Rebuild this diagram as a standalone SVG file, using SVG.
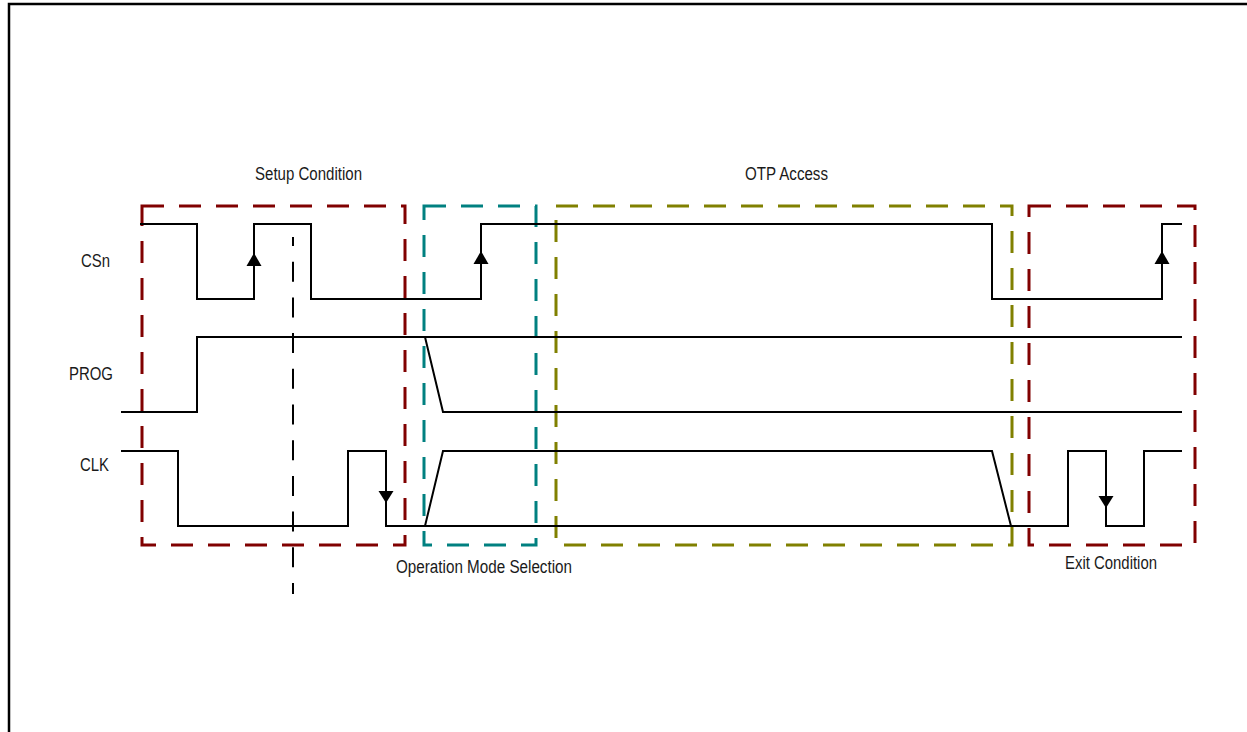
<svg xmlns="http://www.w3.org/2000/svg" width="1247" height="732" viewBox="0 0 1247 732">
  <style>
    .frame { fill: none; stroke: #000; stroke-width: 2.5; }
    .box { fill: none; stroke-width: 3; stroke-dasharray: 22 15; }
    .red { stroke: #800000; }
    .teal { stroke: #008080; }
    .olive { stroke: #808000; }
    .sig { fill: none; stroke: #000; stroke-width: 2; stroke-linejoin: miter; }
    .arrow { fill: #000; stroke: none; }
    .marker { fill: none; stroke: #000; stroke-width: 2; stroke-dasharray: 20 15.7; stroke-dashoffset: 11; }
    .lbl { font-family: "Liberation Sans", Arial, Helvetica, sans-serif; font-size: 18px; fill: #1a1a1a; }
  </style>
  <rect width="1247" height="732" fill="#fff"/>
  <path class="frame" d="M9,732 V4 H1247"/>

  <g id="phases">
    <g id="setup-condition">
      <rect class="box red" x="142" y="206" width="263" height="339"/>
      <text class="lbl" x="255" y="180" textLength="107" lengthAdjust="spacingAndGlyphs">Setup Condition</text>
    </g>
    <g id="operation-mode-selection">
      <rect class="box teal" x="424" y="206" width="112" height="339"/>
      <text class="lbl" x="396" y="573" textLength="176" lengthAdjust="spacingAndGlyphs">Operation Mode Selection</text>
    </g>
    <g id="otp-access">
      <rect class="box olive" x="556" y="206" width="456" height="339"/>
      <text class="lbl" x="745" y="180" textLength="83" lengthAdjust="spacingAndGlyphs">OTP Access</text>
    </g>
    <g id="exit-condition">
      <rect class="box red" x="1029" y="206" width="166" height="339"/>
      <text class="lbl" x="1065" y="569" textLength="92" lengthAdjust="spacingAndGlyphs">Exit Condition</text>
    </g>
  </g>

  <g id="signals">
    <g id="csn">
      <text class="lbl" x="81" y="267" textLength="29" lengthAdjust="spacingAndGlyphs">CSn</text>
      <path class="sig" d="M140,224 H197 V299 H254 V224 H311 V299 H481 V224 H992 V299 H1162 V224 H1182"/>
      <polygon class="arrow" points="254,253 246.5,266 261.5,266"/>
      <polygon class="arrow" points="481,251 473.5,264 488.5,264"/>
      <polygon class="arrow" points="1162,251 1154.5,264 1169.5,264"/>
    </g>
    <g id="prog">
      <text class="lbl" x="69" y="380" textLength="44" lengthAdjust="spacingAndGlyphs">PROG</text>
      <path class="sig" d="M121,412 H197 V337 H1182"/>
      <path class="sig" d="M425,337 L443,412 H1182"/>
    </g>
    <g id="clk">
      <text class="lbl" x="80" y="471" textLength="29" lengthAdjust="spacingAndGlyphs">CLK</text>
      <path class="sig" d="M121,451 H178 V526 H348 V451 H386 V526 H1068 V451 H1106 V526 H1144 V451 H1182"/>
      <path class="sig" d="M425,526 L443,451 H992 L1011,526"/>
      <polygon class="arrow" points="386,503 378.5,491 393.5,491"/>
      <polygon class="arrow" points="1106,508 1098.5,496 1113.5,496"/>
    </g>
  </g>

  <g id="connectors">
    <line class="marker" x1="293" y1="237" x2="293" y2="594"/>
  </g>
</svg>
